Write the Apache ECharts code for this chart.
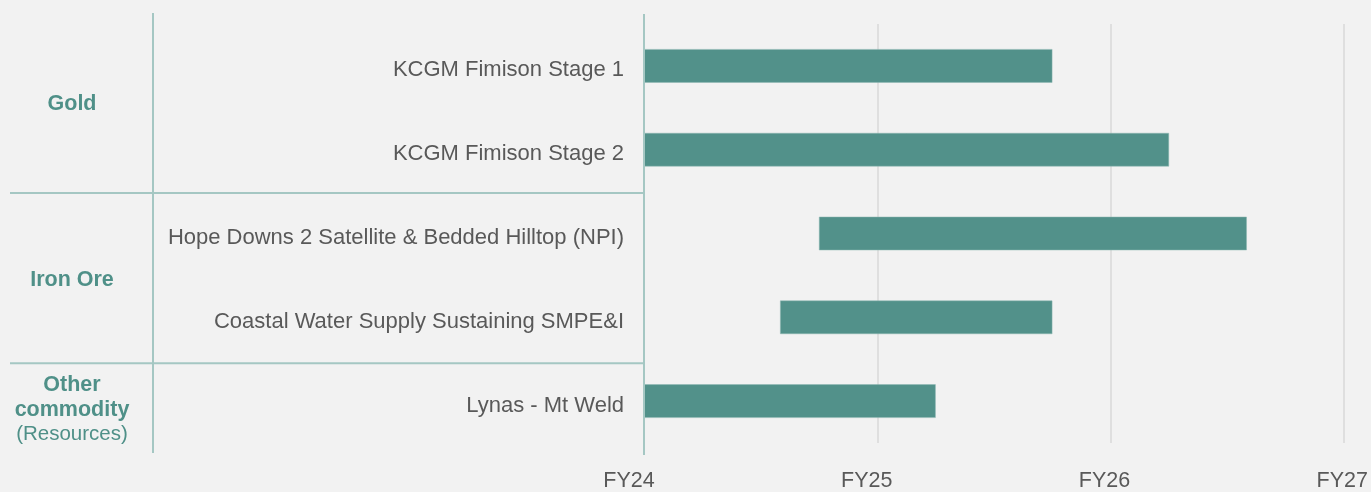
<!DOCTYPE html>
<html>
<head>
<meta charset="utf-8">
<script src="https://cdn.jsdelivr.net/npm/echarts@6/dist/echarts.min.js"></script>
<style>
html,body{margin:0;padding:0;background:#f2f2f2;}
#main{width:1371px;height:492px;}
</style>
</head>
<body>
<div id="main"></div>
<script>
// Data
const categories = [
  'KCGM Fimison Stage 1',
  'KCGM Fimison Stage 2',
  'Hope Downs 2 Satellite & Bedded Hilltop (NPI)',
  'Coastal Water Supply Sustaining SMPE&I',
  'Lynas - Mt Weld'
];
// months from start of FY24
const startMonths = [0, 0, 9, 7, 0];
const endMonths = [21, 27, 31, 21, 15];
const tickLabels = ['FY24', 'FY25', 'FY26', 'FY27'];
const groupNames = ['Gold', 'Iron Ore', 'Other commodity (Resources)'];
const groupFirst = [0, 2, 4];
const groupLast = [1, 3, 4];

const durations = endMonths.map((e, i) => e - startMonths[i]);

const FONT = "'Liberation Sans', Arial, sans-serif";
const TEAL = '#52918a';
const TABLE_LINE = '#a5c7c3';
const LABEL_TEAL = '#4f9088';

const chart = echarts.init(document.getElementById('main'), null, {renderer: 'canvas'});

const option = {
  backgroundColor: '#f2f2f2',
  animation: false,
  textStyle: {fontFamily: FONT},
  grid: [
    {left: 644, right: 27, top: 24, bottom: 49, containLabel: false},
    {left: 629, right: 26, top: 24, bottom: 49, containLabel: false}
  ],
  xAxis: [
    {
      type: 'value', gridIndex: 0, min: 0, max: 36, interval: 12,
      axisLine: {show: false}, axisTick: {show: false},
      axisLabel: {show: false},
      splitLine: {show: true, lineStyle: {color: '#d9d9d9', width: 1.5}}
    },
    {
      type: 'value', gridIndex: 1, min: 0, max: 36, interval: 12,
      axisLine: {show: false}, axisTick: {show: false},
      splitLine: {show: false},
      axisLabel: {
        show: true, margin: 30, fontSize: 21.5, color: '#595959', fontFamily: FONT,
        formatter: v => tickLabels[Math.round(v / 12)]
      }
    }
  ],
  yAxis: [
    {
      type: 'category', gridIndex: 0, data: categories, inverse: true,
      axisLine: {show: false}, axisTick: {show: false},
      axisLabel: {
        margin: 20, fontSize: 22, color: '#595959', fontFamily: FONT,
        formatter: v => '{a|' + v + '}',
        rich: {a: {fontSize: 22, color: '#595959', fontFamily: FONT, padding: [9, 0, 0, 0]}}
      },
      splitLine: {show: false}
    },
    {
      type: 'category', gridIndex: 1, data: categories, inverse: true, show: false
    }
  ],
  series: [
    {
      type: 'bar', stack: 'g', xAxisIndex: 0, yAxisIndex: 0,
      data: startMonths, barWidth: '40%',
      itemStyle: {color: 'rgba(0,0,0,0)'}, silent: true
    },
    {
      type: 'bar', stack: 'g', xAxisIndex: 0, yAxisIndex: 0,
      data: durations, barWidth: '40%',
      itemStyle: {color: TEAL, borderColor: '#8fb8b3', borderWidth: 0.5}
    }
  ]
};
chart.setOption(option);

function buildTable() {
  const x0 = chart.convertToPixel({xAxisIndex: 0}, 0);
  const yc = categories.map(c => chart.convertToPixel({yAxisIndex: 0}, c));
  const band = yc[1] - yc[0];
  const topY = yc[0] - band / 2 - 11;
  const botY = yc[yc.length - 1] + band / 2 + 10;
  const colX = 153;
  const leftX = 10;
  const sepOffset = [1.5, 4];
  const els = [];
  els.push({type: 'line', shape: {x1: colX, y1: topY, x2: colX, y2: botY}, style: {stroke: TABLE_LINE, lineWidth: 2}, z: 10});
  els.push({type: 'line', shape: {x1: x0, y1: topY + 1, x2: x0, y2: botY + 2}, style: {stroke: TABLE_LINE, lineWidth: 2}, z: 10});
  const bounds = [topY];
  for (let g = 0; g < groupNames.length - 1; g++) {
    const y = yc[groupLast[g]] + band / 2 + sepOffset[g];
    bounds.push(y);
    els.push({type: 'line', shape: {x1: leftX, y1: y, x2: x0, y2: y}, style: {stroke: TABLE_LINE, lineWidth: 2}, z: 10});
  }
  bounds.push(botY);
  for (let g = 0; g < groupNames.length; g++) {
    const cy = (bounds[g] + bounds[g + 1]) / 2 + 1.5;
    const name = groupNames[g];
    let text;
    const m = name.match(/^(.*?)\s+(\S+)\s+(\(.*\))$/);
    if (m) {
      text = '{b|' + m[1] + '}\n{b|' + m[2] + '}\n{n|' + m[3] + '}';
    } else {
      text = '{b|' + name + '}';
    }
    els.push({
      type: 'text', x: 72, y: cy, z: 11,
      style: {
        text: text, align: 'center', verticalAlign: 'middle',
        fill: LABEL_TEAL, fontFamily: FONT,
        rich: {
          b: {fontSize: 21.5, fontWeight: 'bold', fill: LABEL_TEAL, color: LABEL_TEAL, lineHeight: 24.5, fontFamily: FONT},
          n: {fontSize: 20.5, fontWeight: 'normal', fill: LABEL_TEAL, color: LABEL_TEAL, lineHeight: 24.5, fontFamily: FONT}
        }
      }
    });
  }
  chart.setOption({graphic: {elements: els}});
}
buildTable();
</script>
</body>
</html>
